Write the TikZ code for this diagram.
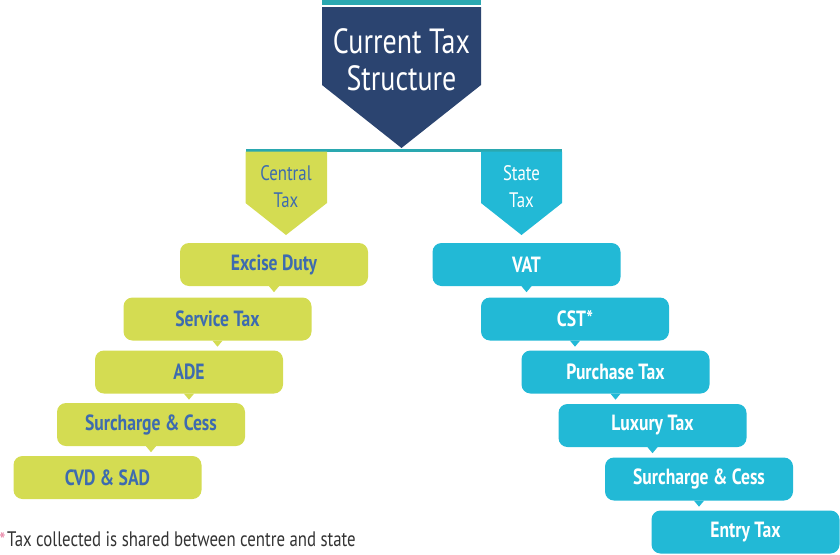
\documentclass[tikz,border=0pt]{standalone}
\usepackage{fontspec}
\setmainfont{PT Sans}[FakeStretch=0.8]
\usepackage{tikz}

\definecolor{navy}{HTML}{2B4470}
\definecolor{tealline}{HTML}{2AA8B0}
\definecolor{lime}{HTML}{D4DC52}
\definecolor{sky}{HTML}{22B9D6}
\definecolor{inkblue}{HTML}{3D6BAF}
\definecolor{notegray}{HTML}{333333}
\definecolor{starpink}{HTML}{E98CAB}

\tikzset{
  taxbox/.style={rounded corners=9pt, minimum width=188pt, minimum height=43pt,
    inner sep=0pt, font=\fontsize{22}{24}\selectfont\bfseries},
  centralbox/.style={taxbox, fill=lime, text=inkblue},
  statebox/.style={taxbox, fill=sky, text=white},
  headlabel/.style={align=center, font=\fontsize{21}{27}\selectfont},
}

\begin{document}
\begin{tikzpicture}[x=1pt,y=-1pt]
\useasboundingbox (0,0) rectangle (840,554);

% heading
\fill[tealline] (322,0) rectangle (481,5);
\fill[navy] (322,7) -- (481,7) -- (481,85) -- (401.5,148) -- (322,85) -- cycle;
\node[align=center, text=white, font=\fontsize{35}{37}\selectfont] (title) at (401.5,60) {Current Tax\\Structure};

% split line and the two branches
\fill[tealline] (245.5,148.5) rectangle (562,151.5);
\fill[lime] (245.5,151.5) -- (327,151.5) -- (327,203) -- (286,235) -- (245.5,203) -- cycle;
\fill[sky] (481,151.5) -- (562,151.5) -- (562,203) -- (521.5,235) -- (481,203) -- cycle;
\node[headlabel, text=inkblue] (central) at (286,187) {Central\\Tax};
\node[headlabel, text=white] (state) at (521.5,187) {State\\Tax};

% central taxes
\node[centralbox] (excise) at (274,264.5) {Excise Duty};
\node[centralbox] (service) at (217.5,319) {Service Tax};
\node[centralbox] (ade) at (189,372) {ADE};
\node[centralbox] (csur) at (151,424.5) {Surcharge \& Cess};
\node[centralbox] (cvd) at (107.5,477.5) {CVD \& SAD};

\fill[lime] ([xshift=-5pt]excise.south) -- ([xshift=5pt]excise.south) -- ([yshift=-6pt]excise.south) -- cycle;
\fill[lime] ([xshift=-5pt]service.south) -- ([xshift=5pt]service.south) -- ([yshift=-6pt]service.south) -- cycle;
\fill[lime] ([xshift=-5pt]ade.south) -- ([xshift=5pt]ade.south) -- ([yshift=-6pt]ade.south) -- cycle;
\fill[lime] ([xshift=-5pt]csur.south) -- ([xshift=5pt]csur.south) -- ([yshift=-6pt]csur.south) -- cycle;

% state taxes
\node[statebox] (vat) at (526.5,264.5) {VAT};
\node[statebox] (cst) at (575,319) {CST*};
\node[statebox] (purchase) at (615.5,372) {Purchase Tax};
\node[statebox] (luxury) at (652.5,425.5) {Luxury Tax};
\node[statebox] (ssur) at (699,479) {Surcharge \& Cess};
\node[statebox] (entry) at (745.5,532) {Entry Tax};

\fill[sky] ([xshift=-5pt]vat.south) -- ([xshift=5pt]vat.south) -- ([yshift=-6pt]vat.south) -- cycle;
\fill[sky] ([xshift=-5pt]cst.south) -- ([xshift=5pt]cst.south) -- ([yshift=-6pt]cst.south) -- cycle;
\fill[sky] ([xshift=-5pt]purchase.south) -- ([xshift=5pt]purchase.south) -- ([yshift=-6pt]purchase.south) -- cycle;
\fill[sky] ([xshift=-5pt]luxury.south) -- ([xshift=5pt]luxury.south) -- ([yshift=-6pt]luxury.south) -- cycle;
\fill[sky] ([xshift=-5pt]ssur.south) -- ([xshift=5pt]ssur.south) -- ([yshift=-6pt]ssur.south) -- cycle;

% footnote
\node[anchor=base west, inner sep=0pt, text=starpink, font=\fontsize{19}{20}\selectfont\bfseries] (star) at (-0.5,546) {*};
\node[anchor=base west, inner sep=0pt, text=notegray, font=\fontsize{21}{24}\selectfont] (note) at (7,546.5) {Tax collected is shared between centre and state};
\end{tikzpicture}
\end{document}
